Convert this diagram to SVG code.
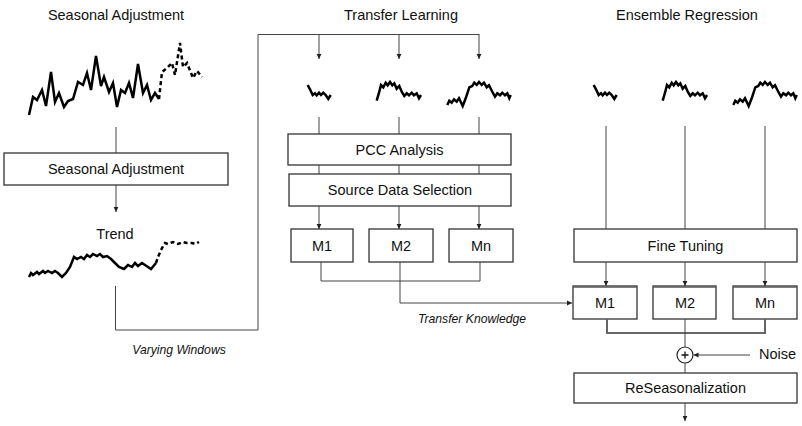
<svg xmlns="http://www.w3.org/2000/svg" width="802" height="426" viewBox="0 0 802 426">
<style>
text{font-family:"Liberation Sans",Arial,sans-serif;font-size:14.5px;fill:#111;text-anchor:middle;dominant-baseline:central}
.it{font-style:italic;font-size:12.2px}
.box{fill:#fff;stroke:#333;stroke-width:1.3}
.ln{fill:none;stroke:#444;stroke-width:1}
.ar{fill:none;stroke:#444;stroke-width:1;marker-end:url(#ah)}
.s{fill:none;stroke:#000;stroke-width:2.5;stroke-linejoin:miter}
.sd{fill:none;stroke:#000;stroke-width:2.5;stroke-dasharray:4 3}
</style>
<defs>
<marker id="ah" markerWidth="6" markerHeight="6" refX="5" refY="3" orient="auto" markerUnits="userSpaceOnUse">
<path d="M0,0.6 L5,3 L0,5.4 Z" fill="#222"/>
</marker>
<g id="ser">
<path class="s" d="M307.7,85 L310,89.3 L312.7,95 L315,93.3 L316.7,95.3 L319,92.7 L321,95 L323.3,92.7 L325.7,95 L328.3,99 L330.7,95"/>
<path class="s" d="M376.7,100.7 L379.3,91.7 L381,85 L383.3,87.3 L385.7,82.7 L387.7,85.3 L390,82 L392.3,85.3 L394.3,83.3 L396.7,88.7 L399.3,86 L401.7,91.7 L404.3,96 L406.7,93.3 L409,95.3 L411.7,92.7 L414,95.3 L416.7,93.3 L419,98.3 L421,95"/>
<path class="s" d="M447.3,105 L449.3,100.7 L451.7,102.7 L454,99.3 L456.7,101.7 L459,98.3 L462.7,106 L465.7,98.3 L469.3,87.3 L472.3,86 L474.3,82.7 L476.7,85 L479,82 L481.7,85 L484,82.7 L486.7,87.3 L489,85.3 L492.3,91.7 L495,96.7 L497.3,93.3 L500,95.3 L502.3,92.7 L505,95.3 L507.3,93.3 L509.3,98.3 L510.7,95"/>
</g>
</defs>
<rect width="802" height="426" fill="#fff"/>

<g id="titles">
<text x="116" y="15">Seasonal Adjustment</text>
<text x="401" y="15">Transfer Learning</text>
<text x="687" y="15">Ensemble Regression</text>
</g>

<g id="raw-series">
<path class="s" d="M29,115 L33,97 L37,100 L42,90 L46,106 L51,72 L55,102 L59,93 L64,107 L68,101 L73,99 L78,82 L83,85 L87,73 L91,90 L96,56 L101,86 L104,77 L109,92 L113,83 L117,107 L121,90 L125,93 L129,83 L133,98 L138,64 L143,93 L147,85 L151,100 L155,93 L159,99"/>
<path class="sd" d="M159,99 L162,72 L167,68 L172,63 L175,75 L180,43 L183,67 L187,63 L193,78 L197,71 L202,77"/>
</g>

<g id="seasonal-adjustment">
<rect class="box" x="4" y="153" width="224" height="32"/>
<text x="116" y="169">Seasonal Adjustment</text>
</g>

<g id="trend">
<text x="115" y="234">Trend</text>
<path class="s" d="M29,277 L31,273 L33,275 L37,272 L39,274 L43,271 L45,273 L48,271 L52,273 L55,271 L58,273 L62,277 L66,273 L70,267 L74,257 L77,259 L81,257 L84,259 L87,255 L90,257 L93,254 L97,256 L100,254 L103,257 L107,256 L111,259 L115,263 L119,267 L124,269 L128,265 L132,267 L135,263 L138,266 L142,263 L145,265 L151,269 L156,263"/>
<path class="sd" d="M156,263 L158,257 L162,248 L165,243 L168,244 L173,242 L178,244 L183,242 L187,243 L192,243 L195,244 L199,242"/>
</g>

<g id="tl-series">
<use href="#ser"/>
</g>
<g id="er-series">
<use href="#ser" transform="translate(286,0)"/>
</g>

<g id="pcc">
<rect class="box" x="288" y="134" width="223" height="31"/>
<text x="399.5" y="149.5">PCC Analysis</text>
</g>
<g id="source-selection">
<rect class="box" x="289" y="174" width="222" height="32"/>
<text x="400" y="190">Source Data Selection</text>
</g>
<g id="tl-m1">
<rect class="box" x="291" y="229" width="62" height="33"/>
<text x="322" y="246">M1</text>
</g>
<g id="tl-m2">
<rect class="box" x="369" y="229" width="64" height="33"/>
<text x="401" y="246">M2</text>
</g>
<g id="tl-mn">
<rect class="box" x="449" y="229" width="64" height="33"/>
<text x="481" y="246">Mn</text>
</g>

<g id="fine-tuning">
<rect class="box" x="574" y="229" width="223" height="33"/>
<text x="685.5" y="246">Fine Tuning</text>
</g>
<g id="er-m1">
<rect class="box" x="573" y="286" width="64" height="33"/>
<line x1="573" y1="287.2" x2="637" y2="287.2" stroke="#555" stroke-width="1.2"/>
<text x="605" y="303">M1</text>
</g>
<g id="er-m2">
<rect class="box" x="653" y="286" width="63" height="33"/>
<line x1="653" y1="287.2" x2="716" y2="287.2" stroke="#555" stroke-width="1.2"/>
<text x="685" y="303">M2</text>
</g>
<g id="er-mn">
<rect class="box" x="733" y="286" width="64" height="33"/>
<line x1="733" y1="287.2" x2="797" y2="287.2" stroke="#555" stroke-width="1.2"/>
<text x="765" y="303">Mn</text>
</g>
<g id="sum">
<circle cx="685" cy="355" r="8" fill="#fff" stroke="#222" stroke-width="1.2"/>
<path d="M681.5,355 H688.5 M685,351.5 V358.5" stroke="#111" stroke-width="1.3"/>
</g>
<g id="noise">
<text x="777.5" y="354">Noise</text>
</g>
<g id="reseasonalization">
<rect class="box" x="574" y="373" width="223" height="30"/>
<text x="685.5" y="388">ReSeasonalization</text>
</g>

<g id="labels">
<text class="it" x="179" y="350">Varying Windows</text>
<text class="it" x="472" y="319">Transfer Knowledge</text>
</g>

<g id="connectors">
<line class="ln" x1="116" y1="127" x2="116" y2="153"/>
<line class="ar" x1="116" y1="185" x2="116" y2="212"/>
<path class="ln" d="M115.5,286 V330 H258 V34.5 H479.5"/>
<line class="ar" x1="319" y1="34.5" x2="319" y2="59"/>
<line class="ar" x1="399" y1="34.5" x2="399" y2="59"/>
<line class="ar" x1="479" y1="34.5" x2="479" y2="59"/>
<line class="ln" x1="319" y1="117" x2="319" y2="134"/>
<line class="ln" x1="399" y1="117" x2="399" y2="134"/>
<line class="ln" x1="479" y1="117" x2="479" y2="134"/>
<line class="ln" x1="319" y1="165" x2="319" y2="174"/>
<line class="ln" x1="399" y1="165" x2="399" y2="174"/>
<line class="ln" x1="479" y1="165" x2="479" y2="174"/>
<line class="ar" x1="319" y1="206" x2="319" y2="229"/>
<line class="ar" x1="399" y1="206" x2="399" y2="229"/>
<line class="ar" x1="479" y1="206" x2="479" y2="229"/>
<path class="ln" d="M321,262 V281 H480 V262"/>
<path class="ar" d="M400,262 V303 H572"/>
<line class="ln" x1="606" y1="126" x2="606" y2="229"/>
<line class="ln" x1="685" y1="126" x2="685" y2="229"/>
<line class="ln" x1="765" y1="126" x2="765" y2="229"/>
<line class="ar" x1="606" y1="262" x2="606" y2="286"/>
<line class="ar" x1="685" y1="262" x2="685" y2="286"/>
<line class="ar" x1="765" y1="262" x2="765" y2="286"/>
<path d="M607,319 V333 H765 V319" fill="none" stroke="#666" stroke-width="2"/>
<line class="ln" x1="685" y1="319" x2="685" y2="347"/>
<line class="ar" x1="750" y1="355" x2="693.5" y2="355"/>
<line class="ln" x1="685" y1="363" x2="685" y2="373"/>
<line class="ar" x1="685" y1="403" x2="685" y2="421"/>
</g>
</svg>
